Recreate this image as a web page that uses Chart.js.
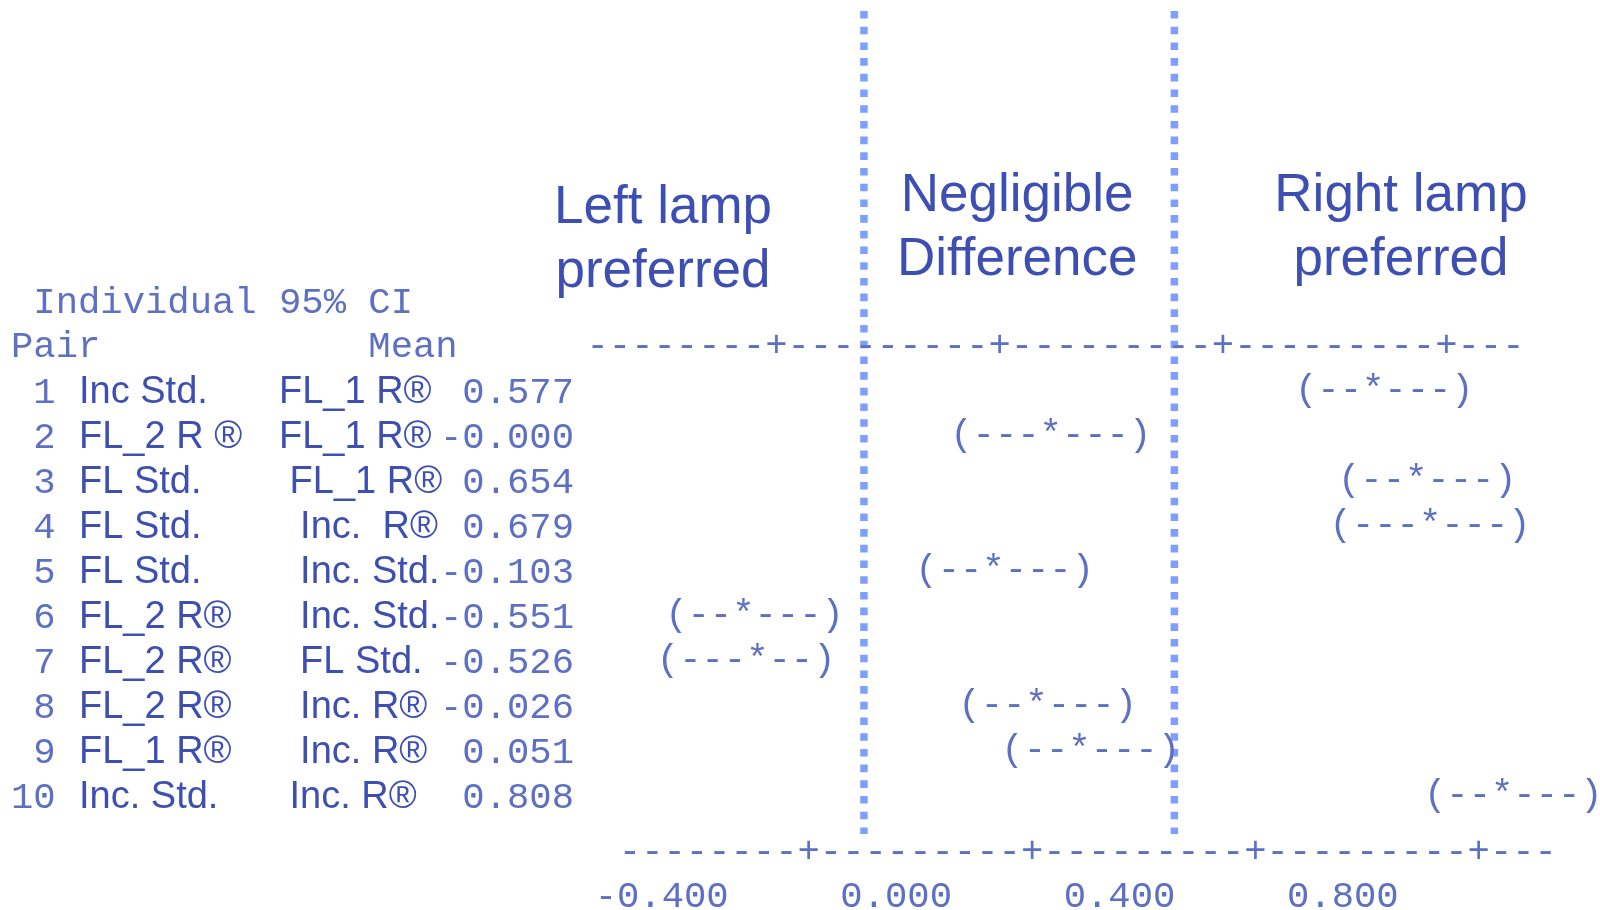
<!DOCTYPE html>
<html>
<head>
<meta charset="utf-8">
<script src="https://cdn.jsdelivr.net/npm/chart.js@4.4.1/dist/chart.umd.min.js"></script>
<style>
  html, body { margin: 0; padding: 0; background: #ffffff; }
  #wrap { width: 1600px; height: 910px; position: relative; }
</style>
</head>
<body>
<div id="wrap"><canvas id="c"></canvas></div>
<script>
// ---------------- data ----------------
const pairNumbers = [1, 2, 3, 4, 5, 6, 7, 8, 9, 10];
const pairLeft  = ["Inc Std.", "FL_2 R \u00AE", "FL Std.", "FL Std.", "FL Std.",
                   "FL_2 R\u00AE", "FL_2 R\u00AE", "FL_2 R\u00AE", "FL_1 R\u00AE", "Inc. Std."];
const pairRight = ["FL_1 R\u00AE", "FL_1 R\u00AE", " FL_1 R\u00AE", "  Inc.  R\u00AE", "  Inc. Std.",
                   "  Inc. Std.", "  FL Std.", "  Inc. R\u00AE", "  Inc. R\u00AE", " Inc. R\u00AE"];
const means   = [0.577, -0.0004, 0.654, 0.679, -0.103, -0.551, -0.526, -0.026, 0.051, 0.808];
const ciLower = [0.455, -0.160, 0.532, 0.520, -0.225, -0.672, -0.684, -0.148, -0.071, 0.686];
const ciUpper = [0.730,  0.160, 0.808, 0.838,  0.050, -0.395, -0.404,  0.128,  0.205, 0.962];
const tickValues = [-0.4, 0.0, 0.4, 0.8];
const negligibleBounds = [-0.335, 0.221];
const headerTitle = " Individual 95% CI";
const headerColumns = ["Pair", "Mean"];
const regionTitles = [["Left lamp", "preferred"], ["Negligible", "Difference"], ["Right lamp", "preferred"]];

// ---------------- layout / style ----------------
const W = 1600, H = 910;
const X_MIN = -0.84, X_MAX = 0.96;
const PAD = { left: 582, right: 13, top: 345, bottom: 0 };
const AXIS_H = 70;
const TICK_STEP = 0.4;
const CHAR_STEP = TICK_STEP / 10;           // Minitab: 10 characters per tick interval
const PX_PER_UNIT = (W - PAD.left - PAD.right) / (X_MAX - X_MIN);
const CW = CHAR_STEP * PX_PER_UNIT;         // one monospace cell
const MONO_SIZE = CW / 0.6;
const MONO = "'Liberation Mono', 'Courier New', monospace";
const SANS = "'Liberation Sans', Arial, sans-serif";
const SANS_COLOR = '#3d4fb2';
const MONO_COLOR = '#5d70c3';
const LINE_COLOR = '#7f9fff';

function rulerString() {
  let s = '-'.repeat(8);
  tickValues.forEach((v, i) => {
    s += '+' + '-'.repeat(i === tickValues.length - 1 ? 3 : 9);
  });
  return s;
}

const textPlugin = {
  id: 'minitabText',
  beforeDatasetsDraw(chart) {
    const ctx = chart.ctx, xs = chart.scales.x, ys = chart.scales.y;
    ctx.save();
    ctx.strokeStyle = LINE_COLOR;
    ctx.lineWidth = 7.5;
    ctx.setLineDash([7.6, 8.1]);
    negligibleBounds.forEach(b => {
      const x = xs.getPixelForValue(b);
      ctx.beginPath();
      ctx.moveTo(x, 11);
      ctx.lineTo(x, ys.bottom - 6);
      ctx.stroke();
    });
    ctx.restore();
  },
  afterDatasetsDraw(chart) {
    const ctx = chart.ctx, xs = chart.scales.x, ys = chart.scales.y;
    const meta = chart.getDatasetMeta(0);
    const mono = MONO_SIZE.toFixed(2) + 'px ' + MONO;
    const sans = '38px ' + SANS;
    const tableX = 11;
    ctx.save();

    // region titles
    ctx.fillStyle = SANS_COLOR;
    ctx.font = '53px ' + SANS;
    ctx.textAlign = 'center';
    ctx.textBaseline = 'alphabetic';
    const midNeg = (xs.getPixelForValue(negligibleBounds[0]) + xs.getPixelForValue(negligibleBounds[1])) / 2;
    const titlePos = [[663, 223], [midNeg - 2, 211], [1401, 211]];
    regionTitles.forEach((lines, k) => {
      lines.forEach((t, j) => ctx.fillText(t, titlePos[k][0], titlePos[k][1] + j * 64));
    });

    // headers
    ctx.textAlign = 'left';
    ctx.fillStyle = MONO_COLOR;
    ctx.font = mono;
    ctx.fillText(headerTitle, tableX, ys.getPixelForValue(-1) + 13);
    ctx.fillText(headerColumns[0] + ' '.repeat(16 - headerColumns[0].length) + headerColumns[1],
                 tableX, ys.getPixelForValue(0) + 12);

    // table rows
    meta.data.forEach((pt, i) => {
      const y = pt.y + 13;
      ctx.font = mono;
      ctx.fillStyle = MONO_COLOR;
      ctx.fillText(String(pairNumbers[i]).padStart(2, ' '), tableX, y);
      const m = means[i];
      ctx.fillText((m < 0 ? '' : ' ') + m.toFixed(3), 440, y);
      ctx.font = sans;
      ctx.fillStyle = SANS_COLOR;
      ctx.fillText(pairLeft[i], 79, y);
      ctx.fillText(pairRight[i], 279, y);
    });

    // rulers
    ctx.font = mono;
    ctx.fillStyle = MONO_COLOR;
    ctx.textBaseline = 'middle';
    const r = rulerString();
    const base = xs.getPixelForValue(tickValues[0]) - 8.5 * CW;
    ctx.fillText(r, base - 2.3 * CW, ys.getPixelForValue(0) + 1);
    ctx.fillText(r, base - 0.85 * CW, ys.bottom + 12);

    // confidence intervals
    meta.data.forEach((pt, i) => {
      const m = means[i];
      const nL = Math.max(1, Math.round((m - ciLower[i]) / CHAR_STEP));
      const nR = Math.max(1, Math.round((ciUpper[i] - m) / CHAR_STEP));
      const s = '(' + '-'.repeat(nL - 1) + '*' + '-'.repeat(nR - 1) + ')';
      ctx.fillText(s, pt.x - (nL + 0.5) * CW, pt.y);
    });
    ctx.restore();
  }
};

new Chart(document.getElementById('c'), {
  type: 'scatter',
  data: {
    datasets: [{
      label: 'Mean',
      data: means.map((m, i) => ({ x: m, y: pairNumbers[i] })),
      pointRadius: 0,
      pointHoverRadius: 0,
      showLine: false
    }]
  },
  options: {
    responsive: true,
    maintainAspectRatio: false,
    animation: false,
    layout: { padding: PAD },
    plugins: { legend: { display: false }, tooltip: { enabled: false } },
    scales: {
      x: {
        type: 'linear', min: X_MIN, max: X_MAX,
        grid: { display: false, drawTicks: false },
        border: { display: false },
        afterBuildTicks: s => { s.ticks = tickValues.map(v => ({ value: v })); },
        afterFit: s => { s.height = AXIS_H; },
        ticks: {
          autoSkip: false, maxRotation: 0, minRotation: 0,
          align: 'end', labelOffset: -99, padding: 35,
          color: MONO_COLOR,
          font: { family: 'Liberation Mono', size: MONO_SIZE },
          callback: v => Number(v).toFixed(3)
        }
      },
      y: {
        type: 'linear', min: 0, max: 11, reverse: true, display: false
      }
    }
  },
  plugins: [textPlugin]
});
</script>
</body>
</html>
